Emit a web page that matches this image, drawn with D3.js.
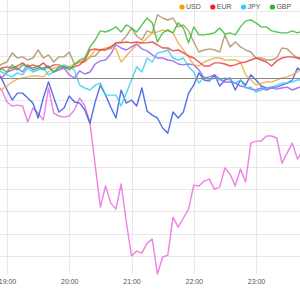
<!DOCTYPE html>
<html>
<head>
<meta charset="utf-8">
<script src="https://cdn.jsdelivr.net/npm/d3@7"></script>
<style>
  body { margin: 0; background: #fff; }
  #graph { width: 300px; height: 300px; }
  .grid line { stroke: #e8e8e8; stroke-width: 1; }
  .axis text { fill: #555; font: 7px "Liberation Sans", Arial, sans-serif; }
  .legend text { fill: #555; font: 7px "Liberation Sans", Arial, sans-serif; }
  .series { fill: none; stroke-width: 1.45; stroke-opacity: 0.82; stroke-linejoin: round; }
</style>
</head>
<body>
<div id="graph"></div>
<script>
// 5 minute points, first one at 18:50
var startTime = new Date(2020, 0, 1, 18, 50);
var step = 5;

var hourTicks = ["19:00", "20:00", "21:00", "22:00", "23:00"];
var gridValues = [-80, -70, -60, -50, -40, -30, -20, -10, 0, 10, 20, 30];

var legendNames = ["USD", "EUR", "JPY", "GBP"];
var legendColors = ["#ff9900", "#ff1a1a", "#33ccff", "#22bb22"];

var seriesNames = ["CHF", "CAD", "AUD", "NZD", "USD", "EUR", "JPY", "GBP"];
var seriesColors = ["#ee66dd", "#3355dd", "#9955ee", "#a8905c", "#f0a840", "#ee3333", "#33ccee", "#33bb33"];

var chf = [-3.2, -5.4, -10.8, -12.6, -12.2, -12.6, -19.8, -13.5, -15.8, -18.9, -4.5, -15.8, -17.1, -17.6, -17.1, -14.4,
    -9, -12.6, -20.3, -39.2, -58.1, -48.6, -56.3, -59, -47.7, -64.8, -80.1, -77.9, -78.8, -74.3, -72.5, -88.2,
    -80.6, -79.7, -62.6, -67.1, -63, -59, -48.2, -48.6, -46.4, -45.5, -50, -49.1, -40.5, -43.2, -48.6, -41,
    -46.8, -29.3, -28.4, -28.4, -26.1, -26.1, -27, -38.3, -33.8, -29.3, -36.5, -32.4];
var cad = [2.7, -0.5, -5.4, -9.9, -6.8, -6.8, -9, -11.3, -18, -9, -1.8, -8.6, -15.3, -13.5, -8.1, -10.8,
    -11.3, -14.4, -20.3, -10.8, -3.2, -7.7, -13.1, -18, -5.4, -11.3, -9.9, -12.6, -4.5, -14.9, -16.7, -18,
    -22.5, -24.8, -15.3, -18, -15.3, -6.8, -3.2, 2.3, -0.9, -1.4, 1.4, -3.6, -0.9, 0, -5.4, -0.9,
    -3.2, 1.4, -0.9, -3.6, -4.5, -4.1, -4.1, -3.2, -2.3, -0.9, 4.5, 2.7];
var aud = [2.7, 0, 2.7, 3.6, 4.5, 2.7, 5.9, 3.6, 4.5, 4.5, 5.4, 2.7, 3.6, 4.5, 1.4, 0,
    3.2, 1.8, 2.7, 6.3, 7.7, 8.1, 10.8, 14.9, 13.5, 12.6, 14, 15.3, 13.1, 12.2, 10.4, 9,
    9, 8.1, 7.7, 6.3, 5.9, 6.3, 5.9, 3.6, 0, 0.5, 1.4, -0.5, -1.8, -1.8, -2.3, -3.6,
    -4.1, -5, -5.4, -4.5, -5.4, -4.5, -5, -4.5, -4.1, -5.4, -4.5, -3.6];
var nzd = [4.5, 6.3, 7.2, 11.3, 9, 9.5, 8.1, 9, 12.6, 9, 10.4, 7.2, 9.5, 9.5, 11.7, 6.3,
    7.2, 7.2, 9.5, 9.9, 12.6, 13.1, 13.1, 15.8, 16.2, 18.9, 22.5, 18.9, 17.1, 21.2, 20.3, 28.4,
    27, 26.1, 27, 23, 23.9, 21.2, 16.2, 11.7, 12.6, 13.1, 12.6, 11.7, 19.4, 14, 16.2, 14,
    12.6, 11.7, 9, 9, 8.1, 8.1, 9, 13.5, 13.1, 10.8, 9, 9.5];
var usd = [-6.3, -5, -3.6, -1.8, -0.5, 0, 0.5, 0.9, 0.9, 0.5, 2.7, 4.5, 5, 5, 5, 6.3,
    7.2, 8.1, 9.5, 12.6, 12.6, 13.5, 14, 13.1, 7.2, 9.9, 12.6, 14.9, 15.8, 18, 20.3, 20.7,
    21.6, 21.2, 20.3, 15.8, 12.6, 9.5, 5.9, 5.4, 7.2, 8.1, 9, 9, 8.1, 8.1, 8.1, 7.2,
    1.4, -0.9, -3.2, -2.3, -1.8, -1.8, -0.9, 0, 0.5, 1.4, 2.7, 4.5];
var eur = [3.6, 4.5, 5, 4.5, 5.4, 6.8, 5, 5.9, 5, 6.8, 4.5, 5.9, 5.9, 5, 4.5, 5,
    5.9, 8.1, 12.6, 13.1, 12.6, 12.6, 14, 15.8, 15.8, 16.2, 15.8, 16.2, 15.8, 15.8, 16.2, 14.9,
    13.5, 13.5, 12.2, 12.6, 11.3, 9.9, 9, 7.2, 5.4, 5.4, 6.8, 6.8, 6.3, 5.4, 5.9, 6.8,
    7.2, 8.1, 9, 8.1, 7.2, 5.4, 7.7, 9, 9.5, 9.5, 9, 8.1];
var jpy = [3.6, 2.7, 1.4, 0.5, 2.3, 1.4, 4.5, 2.7, 3.6, 4.5, 1.4, 2.7, 5, 5.9, 5, 3.6,
    -3.2, -4.5, -5.4, -3.2, -2.3, -7.7, -7.7, -7.7, -12.6, -6.8, -0.9, 5, 2.7, 9, 7.2, 11.3,
    11.7, 12.6, 9, 8.1, 9, 5, 2.7, -2.3, 0.5, -0.9, 0, -0.9, 0, -0.9, -2.3, -0.9,
    -4.5, -4.1, -6.3, -5.4, -4.5, -4.1, -3.2, -2.3, -2.3, -1.8, -0.9, -0.9];
var gbp = [2.7, 4.1, 2.7, 5.9, 3.6, 5.9, 5, 4.5, 5.4, 3.6, 5, 2.7, 4.5, 5, 3.6, 5.9,
    8.1, 9, 14, 17.1, 21.2, 20.7, 21.6, 23, 20.7, 23.9, 22.5, 20.7, 23.9, 27, 24.8, 16.2,
    20.3, 21.6, 20.3, 24.8, 22.5, 15.8, 23, 19.4, 19.4, 19.8, 20.3, 22.5, 19.8, 20.3, 19.4, 23,
    25.7, 26.1, 24.8, 23, 23, 21.2, 20.7, 20.3, 20.3, 21.2, 20.3, 21.2];

var seriesValues = [chf, cad, aud, nzd, usd, eur, jpy, gbp];

var width = 300, height = 300;

var svg = d3.select("#graph")
    .append("svg")
    .attr("width", width)
    .attr("height", height);

var parseHour = d3.timeParse("%H:%M");
var tickDates = hourTicks.map(function(t) {
    var p = parseHour(t);
    return new Date(2020, 0, 1, p.getHours(), p.getMinutes());
});

// 19:00 sits at x=7, 23:00 at x=256
var xScale = d3.scaleTime()
    .domain([tickDates[0], tickDates[4]])
    .range([7, 256]);

var yScale = d3.scaleLinear().domain([-90, 35.1]).range([278, 0]);

var timeOf = function(i) {
    return d3.timeMinute.offset(startTime, i * step);
};

// grid
svg.append("g")
    .attr("class", "grid")
    .selectAll("line.h")
    .data(gridValues.filter(function(v) { return v !== 0; }))
    .enter().append("line")
    .attr("x1", 0)
    .attr("x2", width)
    .attr("y1", function(d) { return Math.round(yScale(d)) + 0.5; })
    .attr("y2", function(d) { return Math.round(yScale(d)) + 0.5; });

svg.select(".grid")
    .selectAll("line.v")
    .data(tickDates)
    .enter().append("line")
    .attr("x1", function(d) { return Math.round(xScale(d)) + 0.5; })
    .attr("x2", function(d) { return Math.round(xScale(d)) + 0.5; })
    .attr("y1", 0)
    .attr("y2", 274);

// x axis labels
var xAxis = d3.axisBottom(xScale)
    .tickValues(tickDates)
    .tickFormat(d3.timeFormat("%H:%M"))
    .tickSize(0);

svg.append("g")
    .attr("class", "axis")
    .attr("transform", "translate(0,276)")
    .call(xAxis)
    .call(function(g) { g.select(".domain").remove(); })
    .selectAll("text")
    .attr("dy", "0.71em")
    .attr("y", 3);

// series
var line = d3.line()
    .x(function(d, i) { return xScale(timeOf(i)); })
    .y(function(d) { return yScale(d); });

svg.append("g")
    .selectAll("path")
    .data(seriesValues)
    .enter().append("path")
    .attr("class", "series")
    .attr("stroke", function(d, i) { return seriesColors[i]; })
    .attr("d", line);

// zero line on top
svg.append("line")
    .attr("x1", 0)
    .attr("x2", width)
    .attr("y1", Math.round(yScale(0)) + 0.5)
    .attr("y2", Math.round(yScale(0)) + 0.5)
    .attr("stroke", "#888")
    .attr("stroke-width", 1);

// legend
var legend = svg.append("g")
    .attr("class", "legend")
    .attr("transform", "translate(182,7)");

var lx = 0;
legendNames.forEach(function(name, i) {
    var item = legend.append("g").attr("transform", "translate(" + lx + ",0)");
    item.append("circle")
        .attr("r", 2.6)
        .attr("fill", legendColors[i]);
    var t = item.append("text")
        .attr("x", 4)
        .attr("dy", "0.35em")
        .text(name);
    lx += 4 + t.node().getComputedTextLength() + 12;
});
</script>
</body>
</html>
